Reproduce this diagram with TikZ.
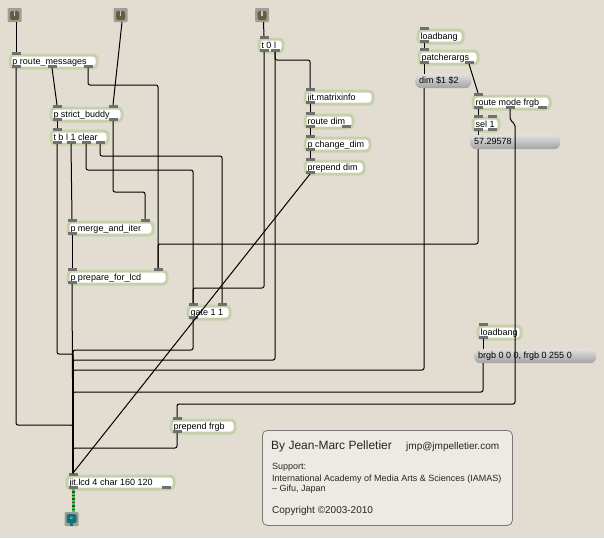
\documentclass[tikz,border=0pt]{standalone}
\usepackage{fontspec}
\setmainfont{Liberation Sans}
\usepackage{tikz}

\definecolor{patchbg}{RGB}{226,221,208}
\definecolor{objrim}{RGB}{198,209,172}
\definecolor{tabgray}{RGB}{112,112,112}
\definecolor{msgtop}{RGB}{224,224,224}
\definecolor{msgbot}{RGB}{162,162,162}
\definecolor{iconbg}{RGB}{158,157,150}
\definecolor{inbrown}{RGB}{107,90,62}
\definecolor{outteal}{RGB}{22,112,122}
\definecolor{notefill}{RGB}{237,234,227}
\definecolor{noteline}{RGB}{120,120,120}
\definecolor{jitgreen}{RGB}{70,200,70}

\newcommand{\objfont}{\fontsize{9}{10}\selectfont}
\newcommand{\maxobj}[5]{%
  \pgfmathsetmacro{\objw}{#4-8}%
  \node[obj] (#1) at (#2+1.5,#3+1.5) {\makebox[\objw pt][l]{#5}};}
\newcommand{\maxmsg}[5]{%
  \pgfmathsetmacro{\objw}{#4-8}%
  \node[msg] (#1) at (#2,#3) {\makebox[\objw pt][l]{#5}};}
\newcommand{\inport}[3]{\fill[tab] (#2-4.5,#3) rectangle (#2+4.5,#3+3); \coordinate (#1) at (#2,#3);}
\newcommand{\outport}[3]{\fill[tab] (#2-4.5,#3-3) rectangle (#2+4.5,#3); \coordinate (#1) at (#2,#3);}
\newcommand{\maxinlet}[3]{%
  \node[iconbox] (#1) at (#2,#3) {};
  \fill[inbrown, rounded corners=1.5pt] (#2-4.5,#3-4) rectangle (#2+4.5,#3+5);
  \fill[inbrown!35!white] (#2-0.7,#3-4) rectangle (#2+0.7,#3+1);}

\begin{document}
\begin{tikzpicture}[x=1pt, y=-1pt,
    obj/.style={draw=objrim, line width=3pt, fill=white, rounded corners=4pt, anchor=north west,
      inner xsep=2.5pt, inner ysep=0pt, minimum height=13pt, font=\objfont,
      text height=7pt, text depth=2pt},
    msg/.style={top color=msgtop, bottom color=msgbot, rounded corners=6pt, anchor=north west,
      inner xsep=4pt, inner ysep=0pt, minimum height=14pt, font=\objfont,
      text height=7pt, text depth=2pt},
    tab/.style={fill=tabgray},
    cord/.style={line width=1pt, rounded corners=2pt},
    iconbox/.style={fill=iconbg, minimum size=14pt, inner sep=0pt, rounded corners=1pt},
    note/.style={anchor=base west, inner sep=0pt, text=black!85}]
    \useasboundingbox (0,0) rectangle (604,538);
    \fill[patchbg] (0,0) rectangle (604,538);

    \maxinlet{in1}{14.5}{15}
    \maxinlet{in2}{120.5}{15}
    \maxinlet{in3}{262}{15}

    \maxobj{rm}{7}{52}{90}{p route\_messages}
    \inport{rm-i1}{16}{52}
    \outport{rm-o1}{16}{68}\outport{rm-o2}{52}{68}\outport{rm-o3}{88}{68}

    \maxobj{sb}{48}{105}{74}{p strict\_buddy}
    \inport{sb-i1}{57}{105}\inport{sb-i2}{113}{105}
    \outport{sb-o1}{57}{121}\outport{sb-o2}{113}{121}

    \maxobj{tb}{48}{128}{60}{t b l 1 clear}
    \inport{tb-i1}{57}{128}
    \outport{tb-o1}{57}{144}\outport{tb-o2}{71}{144}\outport{tb-o3}{86}{144}\outport{tb-o4}{100}{144}

    \maxobj{mai}{65}{219}{88}{p merge\_and\_iter}
    \inport{mai-i1}{72}{219}\inport{mai-i2}{145}{219}
    \outport{mai-o1}{72}{235}

    \maxobj{pl}{65}{268}{102}{p prepare\_for\_lcd}
    \inport{pl-i1}{72}{268}\inport{pl-i2}{158}{268}
    \outport{pl-o1}{72}{284}

    \maxobj{gt}{185}{303}{45}{gate 1 1}
    \inport{gt-i1}{193}{303}\inport{gt-i2}{222}{303}
    \outport{gt-o1}{193}{319}

    \maxobj{tol}{256}{36}{27}{t 0 l}
    \inport{tol-i1}{264}{36}
    \outport{tol-o1}{264}{52}\outport{tol-o2}{275}{52}

    \maxobj{mi}{302}{88}{71}{jit.matrixinfo}
    \inport{mi-i1}{310}{88}\outport{mi-o1}{310}{104}

    \maxobj{rd}{302}{112}{51}{route dim}
    \inport{rd-i1}{310}{112}\outport{rd-o1}{310}{128}\outport{rd-o2}{346}{128}

    \maxobj{cd}{302}{135}{68}{p change\_dim}
    \inport{cd-i1}{310}{135}\outport{cd-o1}{310}{151}

    \maxobj{pd}{302}{158}{62}{prepend dim}
    \inport{pd-i1}{310}{158}\outport{pd-o1}{310}{174}

    \maxobj{lbt}{415}{27}{48}{loadbang}
    \inport{lbt-i1}{424}{27}\outport{lbt-o1}{424}{43}

    \maxobj{pa}{416}{48}{62}{patcherargs}
    \inport{pa-i1}{424}{48}\outport{pa-o1}{424}{64}\outport{pa-o2}{469}{64}

    \maxmsg{dm}{415}{74}{56}{dim \$1 \$2}
    \coordinate (dm-i) at (424,74);
    \coordinate (dm-o) at (424,88);

    \maxobj{rmf}{470}{93}{80}{route mode frgb}
    \inport{rmf-i1}{478}{93}
    \outport{rmf-o1}{478}{109}\outport{rmf-o2}{510}{109}\outport{rmf-o3}{542}{109}

    \maxobj{sel}{470}{115}{29}{sel 1}
    \inport{sel-i1}{478}{115}\inport{sel-i2}{492}{115}
    \outport{sel-o1}{478}{131}\outport{sel-o2}{492}{131}

    \maxmsg{deg}{470}{135}{90}{57.29578}
    \coordinate (deg-i) at (478,135);
    \coordinate (deg-o) at (478,149);

    \maxobj{lbb}{475}{323}{46}{loadbang}
    \inport{lbb-i1}{483}{323}\outport{lbb-o1}{483}{339}

    \maxmsg{col}{474}{349}{122}{brgb 0 0 0, frgb 0 255 0}
    \coordinate (col-i) at (483,349);
    \coordinate (col-o) at (483,363);

    \maxobj{pf}{168}{417}{67}{prepend frgb}
    \inport{pf-i1}{177}{417}\outport{pf-o1}{177}{433}

    \maxobj{lcd}{64}{473}{110}{jit.lcd 4 char 160 120}
    \inport{lcd-i1}{73}{473}
    \outport{lcd-o1}{73}{489}\outport{lcd-o2}{166}{489}

    \node[iconbox] (out) at (71.5,519) {};
    \fill[outteal, rounded corners=1.5pt] (66.5,514) rectangle (76.5,523);
    \fill[outteal] (70,522) rectangle (73,526);
    \node[font=\fontsize{4}{4}\selectfont, text=white, inner sep=0pt] (outmark) at (71.5,518.5) {o};

    \draw[cord] ([xshift=1.5pt]in1.south) -- (rm-i1);
    \draw[cord] ([xshift=1.5pt]in2.south) -- (sb-i2);
    \draw[cord] ([xshift=1.5pt]in3.south) -- (tol-i1);
    \draw[cord] (rm-o1) |- (lcd-i1 |- 0,425) -- (lcd-i1);
    \draw[cord] (rm-o2) -- (sb-i1);
    \draw[cord] (rm-o3) |- (pl-i2 |- 0,85) -- (pl-i2);
    \draw[cord] (sb-o1) -- (tb-i1);
    \draw[cord] (sb-o2) |- (mai-i2 |- 0,192) -- (mai-i2);
    \draw[cord] (tb-o1) |- (lcd-i1 |- 0,354) -- (lcd-i1);
    \draw[cord] (tb-o2) -- (mai-i1);
    \draw[cord] (tb-o3) |- (gt-i1 |- 0,170) -- (gt-i1);
    \draw[cord] (tb-o4) |- (gt-i2 |- 0,156) -- (gt-i2);
    \draw[cord] (mai-o1) -- (pl-i1);
    \draw[cord] (pl-o1) -- (lcd-i1);
    \draw[cord] (gt-o1) |- (lcd-i1 |- 0,350) -- (lcd-i1);
    \draw[cord] (tol-o1) |- (gt-i1 |- 0,288) -- (gt-i1);
    \draw[cord] (tol-o2) |- (mi-i1 |- 0,60) -- (mi-i1);
    \draw[cord] (tol-o2) |- (lcd-i1 |- 0,360) -- (lcd-i1);
    \draw[cord] (mi-o1) -- (rd-i1);
    \draw[cord] (rd-o1) -- (cd-i1);
    \draw[cord] (cd-o1) -- (pd-i1);
    \draw[cord] (pd-o1) -- (lcd-i1);
    \draw[cord] (lbt-o1) -- (pa-i1);
    \draw[cord] (pa-o1) -- (dm-i);
    \draw[cord] (pa-o2) -- (rmf-i1);
    \draw[cord] (dm-o) |- (lcd-i1 |- 0,370) -- (lcd-i1);
    \draw[cord] (rmf-o1) -- (sel-i1);
    \draw[cord] (sel-o1) -- (deg-i);
    \draw[cord] (deg-o) |- (pl-i2 |- 0,244) -- (pl-i2);
    \draw[cord] (rmf-o2) -- ++(0,11) -- ++(5,4) |- (pf-i1 |- 0,404) -- (pf-i1);
    \draw[cord] (lbb-o1) -- (col-i);
    \draw[cord] (col-o) |- (lcd-i1 |- 0,392) -- (lcd-i1);
    \draw[cord] (pf-o1) |- (lcd-i1 |- 0,448) -- (lcd-i1);
    \draw[line width=3pt, black!75] (lcd-o1) -- (lcd-o1 |- out.north);
    \draw[line width=3pt, jitgreen, dash pattern=on 2pt off 1.5pt] (lcd-o1) -- (lcd-o1 |- out.north);

    \node[draw=noteline, fill=notefill, line width=0.8pt, rounded corners=5pt, anchor=north west,
      inner sep=0pt, minimum width=250pt, minimum height=95pt] (about) at (262,430) {};
    \node[note, font=\fontsize{12}{14}\selectfont] (byline) at (271,449) {By Jean-Marc Pelletier};
    \node[note, font=\fontsize{10}{12}\selectfont] (mail) at (406,449) {jmp@jmpelletier.com};
    \node[note, font=\fontsize{9}{10}\selectfont] (support) at (272,469) {Support:};
    \node[note, font=\fontsize{9}{10}\selectfont] (iamas) at (272,481) {International Academy of Media Arts \& Sciences (IAMAS)};
    \node[note, font=\fontsize{9}{10}\selectfont] (gifu) at (272,491) {– Gifu, Japan};
    \node[note, font=\fontsize{10}{12}\selectfont] (copy) at (272,513) {Copyright ©2003-2010};
\end{tikzpicture}
\end{document}
